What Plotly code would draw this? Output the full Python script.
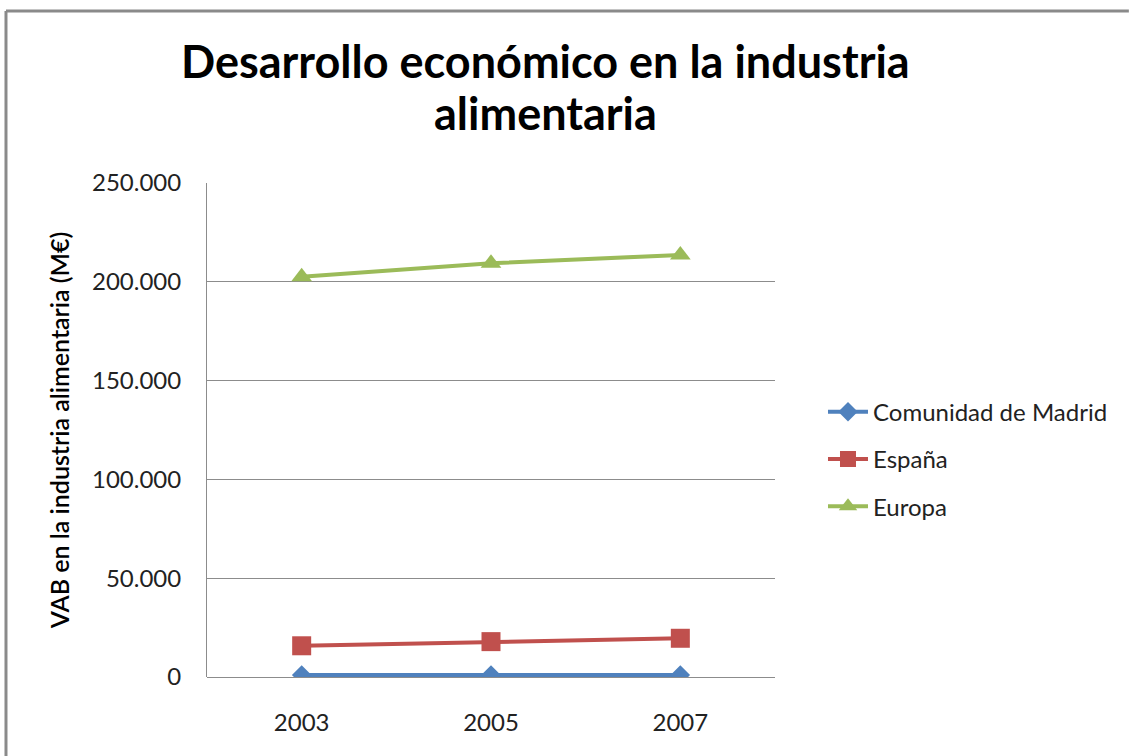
import plotly.graph_objects as go

years = ["2003", "2005", "2007"]
madrid = [1000, 1000, 1000]
espana = [15800, 17900, 19600]
europa = [202600, 209400, 213600]

y_ticks = [0, 50000, 100000, 150000, 200000, 250000]

fnt = "Lato, 'Open Sans', sans-serif"

fig = go.Figure()

fig.add_trace(go.Scatter(x=years, y=madrid, name="Comunidad de Madrid",
    mode="lines+markers", legendgroup="a",
    line=dict(color="#4F81BD", width=4),
    marker=dict(symbol="diamond", size=15, color="#4F81BD")))

fig.add_trace(go.Scatter(x=years, y=espana, name="España",
    mode="lines+markers", legendgroup="b",
    line=dict(color="#C0504D", width=4),
    marker=dict(symbol="square", size=19, color="#C0504D")))

fig.add_trace(go.Scatter(x=years, y=europa, name="Europa",
    mode="lines+markers", legendgroup="c",
    line=dict(color="#9BBB59", width=4),
    marker=dict(symbol="triangle-up", size=18, color="#9BBB59")))

# gray frame of the chart box (top and left edges)
fig.add_shape(type="line", xref="paper", yref="paper",
    x0=-0.3539, y0=1.348, x1=1.623, y1=1.348,
    line=dict(color="#8a8a8a", width=3))
fig.add_shape(type="line", xref="paper", yref="paper",
    x0=-0.3539, y0=1.348, x1=-0.3539, y1=-0.2,
    line=dict(color="#8a8a8a", width=3))

# title as two centred lines
fig.add_annotation(text="<b>Desarrollo económico en la industria</b>",
    xref="paper", yref="paper", x=0.5968, y=1.247,
    xanchor="center", yanchor="middle", showarrow=False,
    font=dict(size=45, color="black", family=fnt))
fig.add_annotation(text="<b>alimentaria</b>",
    xref="paper", yref="paper", x=0.5968, y=1.1417,
    xanchor="center", yanchor="middle", showarrow=False,
    font=dict(size=45, color="black", family=fnt))

fig.update_layout(
    width=1129, height=756,
    margin=dict(l=207, r=354, t=183, b=79),
    paper_bgcolor="white", plot_bgcolor="white",
    separators=",.",
    font=dict(family=fnt, color="#222222", size=24),
    legend=dict(x=1.0845, xanchor="left", y=0.441, yanchor="middle",
                font=dict(size=24, family=fnt, color="#222222"),
                traceorder="grouped", tracegroupgap=13,
                itemwidth=40, bgcolor="rgba(0,0,0,0)"),
    showlegend=True,
)

fig.update_xaxes(type="category", range=[-0.5, 2.5], showgrid=False,
    showline=False, zeroline=False, ticks="",
    tickfont=dict(size=24, color="#222222"), ticklabelstandoff=29)

fig.update_yaxes(range=[0, 250000], tickvals=y_ticks, tickformat=",d",
    showgrid=True, gridcolor="#8c8c8c", gridwidth=1,
    showline=True, linecolor="#8c8c8c", linewidth=1,
    zeroline=True, zerolinecolor="#8c8c8c", zerolinewidth=1,
    ticks="", ticklabelstandoff=20,
    tickfont=dict(size=24, color="#222222"),
    title=dict(text="VAB en la industria alimentaria (M€)", standoff=15,
               font=dict(size=25, color="black", family=fnt, weight=600)))

# drop the browser's default 8px body margin so the figure fills the window
fig.write_html("out.html", config=dict(displayModeBar=False),
               post_script="document.body.style.margin='0';"
                           "document.body.style.overflow='hidden';")
